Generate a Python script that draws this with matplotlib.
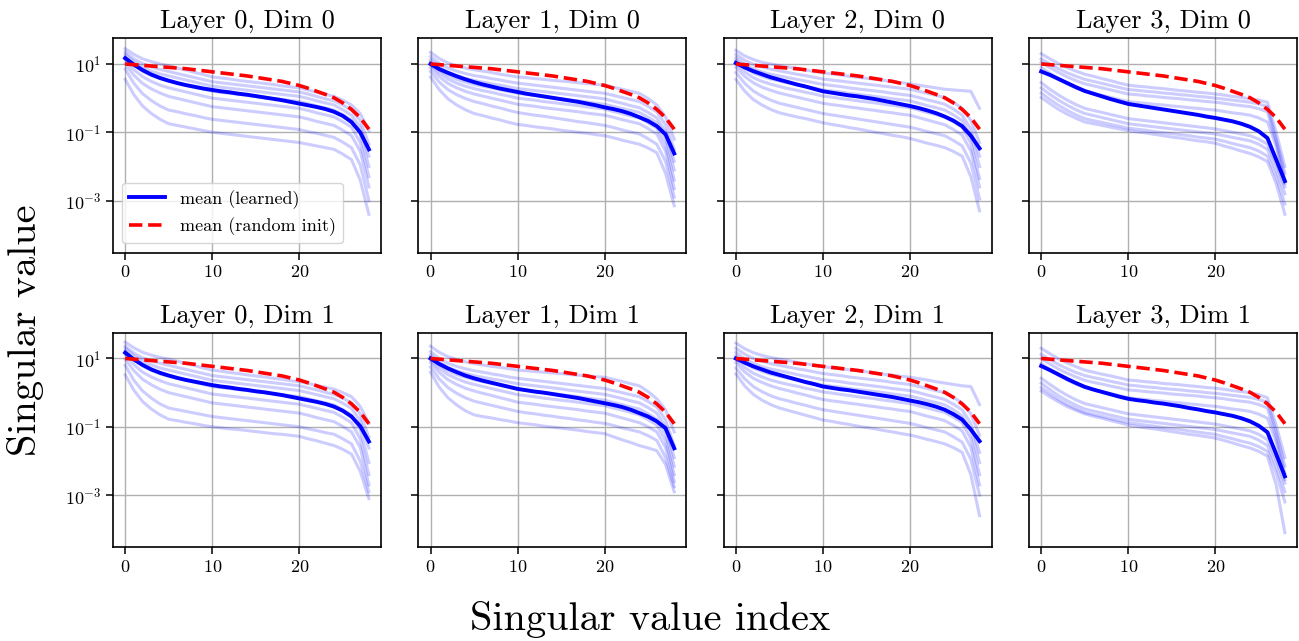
import numpy as np
import matplotlib
matplotlib.use("Agg")
import matplotlib.pyplot as plt
from matplotlib.ticker import NullLocator, FixedLocator

plt.rcParams["font.family"] = ["cmr10", "DejaVu Serif"]
plt.rcParams["mathtext.fontset"] = "cm"
plt.rcParams["axes.formatter.use_mathtext"] = True
plt.rcParams["axes.unicode_minus"] = True

# ---------------- data (log10 of singular values) ----------------
indices = list(range(29))
layers = [0, 1, 2, 3]
dims = [0, 1]
xticks = [0, 10, 20]
yticks = [1e1, 1e-1, 1e-3]

random_init_mean_log10 = [1.00, 0.98, 0.96, 0.94, 0.92, 0.90, 0.88, 0.86, 0.83, 0.80, 0.77, 0.74, 0.71, 0.68, 0.65,
                          0.61, 0.57, 0.53, 0.49, 0.43, 0.37, 0.29, 0.20, 0.11, 0.01, -0.14, -0.33, -0.57, -0.91]

# Layer 0, Dim 0
l0d0_mean_log10 = [1.17, 0.98, 0.82, 0.69, 0.59, 0.51, 0.44, 0.38, 0.33, 0.28, 0.24, 0.20, 0.17, 0.13, 0.10, 0.06, 0.02,
                   -0.02, -0.06, -0.11, -0.16, -0.21, -0.26, -0.32, -0.40, -0.52, -0.70, -1.00, -1.50]
l0d0_runs_log10 = [
    [1.45, 1.28, 1.15, 1.07, 1.00, 0.95, 0.88, 0.82, 0.75, 0.69, 0.62, 0.59, 0.56, 0.52, 0.49, 0.46, 0.43, 0.40, 0.36, 0.33, 0.30, 0.24, 0.17, 0.11, 0.05, -0.06, -0.20, -0.45, -0.95],
    [1.35, 1.15, 1.01, 0.91, 0.84, 0.78, 0.72, 0.66, 0.60, 0.54, 0.48, 0.45, 0.42, 0.39, 0.36, 0.33, 0.30, 0.27, 0.24, 0.21, 0.18, 0.12, 0.05, -0.02, -0.08, -0.20, -0.35, -0.65, -1.35],
    [1.28, 1.06, 0.90, 0.79, 0.71, 0.65, 0.59, 0.53, 0.47, 0.41, 0.35, 0.32, 0.29, 0.26, 0.23, 0.20, 0.17, 0.14, 0.11, 0.08, 0.05, -0.01, -0.08, -0.14, -0.20, -0.34, -0.50, -0.85, -1.70],
    [1.20, 0.96, 0.78, 0.66, 0.57, 0.50, 0.44, 0.38, 0.32, 0.26, 0.20, 0.17, 0.14, 0.11, 0.08, 0.05, 0.02, -0.01, -0.04, -0.07, -0.10, -0.16, -0.23, -0.29, -0.35, -0.49, -0.65, -1.05, -2.00],
    [1.12, 0.83, 0.63, 0.49, 0.38, 0.30, 0.24, 0.18, 0.12, 0.06, 0.00, -0.03, -0.06, -0.09, -0.12, -0.15, -0.18, -0.21, -0.24, -0.27, -0.30, -0.36, -0.43, -0.49, -0.55, -0.69, -0.85, -1.30, -2.30],
    [1.00, 0.67, 0.43, 0.27, 0.15, 0.05, -0.01, -0.07, -0.13, -0.19, -0.25, -0.28, -0.31, -0.34, -0.37, -0.40, -0.43, -0.46, -0.49, -0.52, -0.55, -0.61, -0.68, -0.74, -0.80, -0.94, -1.10, -1.55, -2.60],
    [0.85, 0.43, 0.13, -0.07, -0.23, -0.35, -0.40, -0.46, -0.51, -0.57, -0.62, -0.65, -0.68, -0.71, -0.74, -0.77, -0.80, -0.83, -0.86, -0.89, -0.92, -0.98, -1.03, -1.09, -1.15, -1.29, -1.45, -1.95, -3.00],
    [0.55, 0.10, -0.23, -0.45, -0.62, -0.75, -0.80, -0.85, -0.90, -0.95, -1.00, -1.03, -1.06, -1.09, -1.12, -1.15, -1.18, -1.21, -1.24, -1.27, -1.30, -1.35, -1.40, -1.45, -1.50, -1.64, -1.80, -2.40, -3.40],
]

# Layer 0, Dim 1
l0d1_mean_log10 = [1.17, 0.97, 0.81, 0.68, 0.58, 0.50, 0.43, 0.37, 0.32, 0.27, 0.22, 0.18, 0.15, 0.11, 0.08, 0.04, 0.01,
                   -0.03, -0.07, -0.12, -0.17, -0.22, -0.27, -0.33, -0.41, -0.53, -0.70, -0.98, -1.43]
l0d1_runs_log10 = [
    [1.48, 1.31, 1.18, 1.10, 1.03, 0.98, 0.92, 0.85, 0.79, 0.72, 0.66, 0.63, 0.59, 0.56, 0.52, 0.49, 0.46, 0.42, 0.39, 0.35, 0.32, 0.27, 0.21, 0.16, 0.10, 0.00, -0.12, -0.40, -0.90],
    [1.36, 1.16, 1.02, 0.93, 0.86, 0.80, 0.74, 0.68, 0.62, 0.56, 0.50, 0.47, 0.44, 0.41, 0.38, 0.35, 0.32, 0.29, 0.26, 0.23, 0.20, 0.14, 0.08, 0.01, -0.05, -0.16, -0.30, -0.62, -1.30],
    [1.30, 1.08, 0.92, 0.81, 0.72, 0.66, 0.60, 0.54, 0.48, 0.42, 0.36, 0.33, 0.30, 0.27, 0.24, 0.21, 0.18, 0.15, 0.12, 0.09, 0.06, 0.00, -0.06, -0.12, -0.18, -0.31, -0.46, -0.82, -1.62],
    [1.22, 0.96, 0.78, 0.65, 0.55, 0.48, 0.42, 0.36, 0.30, 0.24, 0.18, 0.15, 0.12, 0.09, 0.06, 0.03, 0.00, -0.03, -0.06, -0.09, -0.12, -0.18, -0.24, -0.30, -0.36, -0.50, -0.66, -1.08, -2.05],
    [1.12, 0.82, 0.60, 0.46, 0.35, 0.26, 0.20, 0.14, 0.08, 0.02, -0.04, -0.07, -0.10, -0.13, -0.16, -0.19, -0.22, -0.25, -0.28, -0.31, -0.34, -0.40, -0.46, -0.52, -0.58, -0.72, -0.88, -1.35, -2.40],
    [0.98, 0.64, 0.39, 0.23, 0.10, 0.00, -0.06, -0.12, -0.18, -0.24, -0.30, -0.33, -0.36, -0.39, -0.42, -0.45, -0.48, -0.51, -0.54, -0.57, -0.60, -0.66, -0.73, -0.79, -0.85, -0.99, -1.15, -1.60, -2.70],
    [0.80, 0.36, 0.05, -0.16, -0.33, -0.45, -0.50, -0.55, -0.60, -0.65, -0.70, -0.73, -0.76, -0.79, -0.82, -0.85, -0.88, -0.91, -0.94, -0.97, -1.00, -1.06, -1.11, -1.17, -1.22, -1.35, -1.50, -2.00, -2.90],
    [0.52, 0.07, -0.26, -0.48, -0.65, -0.78, -0.82, -0.87, -0.91, -0.96, -1.00, -1.03, -1.06, -1.08, -1.11, -1.14, -1.17, -1.20, -1.22, -1.25, -1.28, -1.35, -1.41, -1.48, -1.55, -1.66, -1.80, -2.30, -3.10],
]

# Layer 1, Dim 0
l1d0_mean_log10 = [1.00, 0.85, 0.74, 0.64, 0.55, 0.47, 0.40, 0.34, 0.28, 0.23, 0.18, 0.13, 0.09, 0.05, 0.01, -0.03, -0.07,
                   -0.11, -0.16, -0.21, -0.27, -0.32, -0.38, -0.46, -0.56, -0.67, -0.82, -1.06, -1.62]
l1d0_runs_log10 = [
    [1.34, 1.16, 1.03, 0.95, 0.88, 0.83, 0.79, 0.75, 0.70, 0.66, 0.62, 0.60, 0.57, 0.55, 0.52, 0.50, 0.48, 0.45, 0.43, 0.40, 0.38, 0.32, 0.26, 0.20, 0.14, -0.01, -0.20, -0.55, -1.20],
    [1.22, 1.02, 0.88, 0.79, 0.72, 0.66, 0.62, 0.57, 0.53, 0.48, 0.44, 0.41, 0.38, 0.35, 0.32, 0.29, 0.26, 0.23, 0.20, 0.17, 0.14, 0.08, 0.02, -0.04, -0.10, -0.24, -0.40, -0.78, -1.50],
    [1.12, 0.91, 0.76, 0.66, 0.58, 0.52, 0.47, 0.42, 0.38, 0.33, 0.28, 0.25, 0.22, 0.19, 0.16, 0.13, 0.10, 0.07, 0.04, 0.01, -0.02, -0.09, -0.15, -0.22, -0.28, -0.42, -0.58, -0.98, -1.85],
    [1.05, 0.82, 0.66, 0.55, 0.47, 0.40, 0.35, 0.30, 0.24, 0.19, 0.14, 0.11, 0.08, 0.04, 0.01, -0.02, -0.05, -0.08, -0.12, -0.15, -0.18, -0.24, -0.30, -0.36, -0.42, -0.56, -0.72, -1.15, -2.10],
    [0.98, 0.74, 0.56, 0.44, 0.35, 0.28, 0.22, 0.17, 0.11, 0.06, 0.00, -0.03, -0.06, -0.10, -0.13, -0.16, -0.19, -0.22, -0.26, -0.29, -0.32, -0.39, -0.45, -0.52, -0.58, -0.72, -0.88, -1.35, -2.40],
    [0.90, 0.63, 0.43, 0.30, 0.20, 0.12, 0.06, 0.00, -0.06, -0.12, -0.18, -0.21, -0.24, -0.28, -0.31, -0.34, -0.37, -0.40, -0.44, -0.47, -0.50, -0.56, -0.63, -0.69, -0.75, -0.89, -1.05, -1.55, -2.65],
    [0.78, 0.47, 0.25, 0.10, -0.01, -0.10, -0.16, -0.23, -0.29, -0.36, -0.42, -0.46, -0.50, -0.53, -0.57, -0.61, -0.65, -0.69, -0.72, -0.76, -0.80, -0.86, -0.93, -0.99, -1.05, -1.19, -1.35, -1.85, -2.90],
    [0.62, 0.25, -0.02, -0.20, -0.34, -0.45, -0.51, -0.58, -0.64, -0.71, -0.77, -0.80, -0.84, -0.87, -0.90, -0.94, -0.97, -1.00, -1.03, -1.07, -1.10, -1.16, -1.23, -1.29, -1.35, -1.46, -1.60, -2.20, -3.15],
]

# Layer 1, Dim 1
l1d1_mean_log10 = [1.00, 0.84, 0.71, 0.60, 0.50, 0.42, 0.35, 0.29, 0.23, 0.17, 0.11, 0.07, 0.03, 0.00, -0.04, -0.08, -0.12,
                   -0.16, -0.21, -0.26, -0.31, -0.36, -0.42, -0.50, -0.60, -0.70, -0.84, -1.04, -1.63]
l1d1_runs_log10 = [
    [1.36, 1.18, 1.05, 0.97, 0.90, 0.85, 0.81, 0.77, 0.74, 0.70, 0.66, 0.64, 0.62, 0.60, 0.58, 0.56, 0.53, 0.51, 0.49, 0.47, 0.45, 0.39, 0.33, 0.26, 0.20, 0.03, -0.18, -0.50, -1.15],
    [1.20, 1.00, 0.86, 0.77, 0.70, 0.64, 0.60, 0.55, 0.51, 0.46, 0.42, 0.39, 0.36, 0.33, 0.30, 0.27, 0.24, 0.21, 0.18, 0.15, 0.12, 0.06, 0.00, -0.06, -0.12, -0.26, -0.42, -0.80, -1.55],
    [1.10, 0.89, 0.74, 0.64, 0.56, 0.50, 0.45, 0.40, 0.36, 0.31, 0.26, 0.23, 0.20, 0.17, 0.14, 0.11, 0.07, 0.04, 0.01, -0.02, -0.05, -0.11, -0.17, -0.24, -0.30, -0.44, -0.60, -1.00, -1.90],
    [1.04, 0.81, 0.64, 0.53, 0.45, 0.38, 0.32, 0.27, 0.21, 0.16, 0.10, 0.07, 0.04, 0.00, -0.03, -0.06, -0.09, -0.12, -0.16, -0.19, -0.22, -0.29, -0.35, -0.42, -0.48, -0.62, -0.78, -1.20, -2.15],
    [0.96, 0.71, 0.53, 0.41, 0.31, 0.24, 0.18, 0.12, 0.06, 0.00, -0.06, -0.09, -0.12, -0.16, -0.19, -0.22, -0.25, -0.28, -0.32, -0.35, -0.38, -0.45, -0.51, -0.58, -0.65, -0.79, -0.95, -1.40, -2.40],
    [0.88, 0.59, 0.38, 0.24, 0.13, 0.05, -0.02, -0.08, -0.15, -0.21, -0.28, -0.31, -0.34, -0.38, -0.41, -0.44, -0.47, -0.50, -0.54, -0.57, -0.60, -0.67, -0.74, -0.81, -0.88, -1.00, -1.15, -1.60, -2.60],
    [0.75, 0.40, 0.15, -0.02, -0.15, -0.25, -0.31, -0.37, -0.43, -0.49, -0.55, -0.59, -0.62, -0.66, -0.69, -0.73, -0.76, -0.80, -0.83, -0.87, -0.90, -0.96, -1.03, -1.09, -1.15, -1.26, -1.40, -1.90, -2.75],
    [0.60, 0.16, -0.15, -0.36, -0.53, -0.65, -0.70, -0.74, -0.79, -0.83, -0.88, -0.91, -0.94, -0.98, -1.01, -1.04, -1.07, -1.10, -1.14, -1.17, -1.20, -1.29, -1.38, -1.46, -1.55, -1.62, -1.70, -2.10, -2.90],
]

# Layer 2, Dim 0
l2d0_mean_log10 = [1.03, 0.90, 0.79, 0.70, 0.61, 0.54, 0.47, 0.40, 0.34, 0.27, 0.20, 0.16, 0.12, 0.08, 0.05, 0.01, -0.03,
                   -0.08, -0.13, -0.18, -0.23, -0.29, -0.36, -0.44, -0.54, -0.66, -0.82, -1.10, -1.47]
l2d0_runs_log10 = [
    [1.40, 1.24, 1.13, 1.05, 1.00, 0.95, 0.91, 0.87, 0.82, 0.78, 0.74, 0.71, 0.68, 0.64, 0.61, 0.58, 0.55, 0.52, 0.48, 0.45, 0.42, 0.38, 0.34, 0.30, 0.26, 0.24, 0.22, 0.20, -0.30],
    [1.28, 1.11, 0.99, 0.91, 0.85, 0.80, 0.75, 0.70, 0.66, 0.61, 0.56, 0.53, 0.50, 0.47, 0.44, 0.41, 0.38, 0.35, 0.32, 0.29, 0.26, 0.20, 0.14, 0.08, 0.02, -0.12, -0.30, -0.65, -1.30],
    [1.18, 0.99, 0.86, 0.77, 0.70, 0.65, 0.60, 0.55, 0.50, 0.45, 0.40, 0.37, 0.34, 0.30, 0.27, 0.24, 0.21, 0.18, 0.14, 0.11, 0.08, 0.02, -0.05, -0.11, -0.18, -0.32, -0.50, -0.90, -1.70],
    [1.10, 0.89, 0.74, 0.64, 0.56, 0.50, 0.45, 0.40, 0.34, 0.29, 0.24, 0.21, 0.18, 0.14, 0.11, 0.08, 0.05, 0.02, -0.02, -0.05, -0.08, -0.15, -0.22, -0.28, -0.35, -0.49, -0.66, -1.10, -2.00],
    [1.00, 0.77, 0.60, 0.49, 0.41, 0.34, 0.28, 0.23, 0.17, 0.12, 0.06, 0.03, -0.01, -0.04, -0.08, -0.11, -0.14, -0.18, -0.21, -0.25, -0.28, -0.35, -0.42, -0.48, -0.55, -0.69, -0.85, -1.32, -2.35],
    [0.90, 0.64, 0.45, 0.32, 0.23, 0.15, 0.09, 0.03, -0.03, -0.09, -0.15, -0.19, -0.22, -0.26, -0.29, -0.33, -0.36, -0.40, -0.43, -0.47, -0.50, -0.57, -0.64, -0.71, -0.78, -0.92, -1.08, -1.55, -2.60],
    [0.75, 0.44, 0.21, 0.06, -0.06, -0.15, -0.21, -0.27, -0.33, -0.39, -0.45, -0.49, -0.53, -0.57, -0.61, -0.65, -0.69, -0.73, -0.77, -0.81, -0.85, -0.91, -0.98, -1.04, -1.10, -1.24, -1.40, -1.90, -2.95],
    [0.55, 0.21, -0.04, -0.20, -0.33, -0.43, -0.49, -0.55, -0.60, -0.66, -0.72, -0.77, -0.81, -0.86, -0.90, -0.95, -1.00, -1.04, -1.09, -1.13, -1.18, -1.25, -1.32, -1.38, -1.45, -1.56, -1.70, -2.30, -3.30],
]

# Layer 2, Dim 1
l2d1_mean_log10 = [1.00, 0.88, 0.77, 0.68, 0.59, 0.52, 0.45, 0.38, 0.31, 0.25, 0.18, 0.14, 0.10, 0.07, 0.03, -0.01, -0.05,
                   -0.09, -0.13, -0.18, -0.23, -0.28, -0.34, -0.41, -0.50, -0.63, -0.79, -1.08, -1.42]
l2d1_runs_log10 = [
    [1.45, 1.29, 1.17, 1.09, 1.03, 0.98, 0.94, 0.89, 0.85, 0.80, 0.76, 0.73, 0.70, 0.67, 0.64, 0.61, 0.57, 0.54, 0.51, 0.48, 0.45, 0.41, 0.37, 0.32, 0.28, 0.24, 0.20, 0.18, -0.35],
    [1.30, 1.13, 1.00, 0.92, 0.85, 0.80, 0.75, 0.70, 0.66, 0.61, 0.56, 0.53, 0.50, 0.46, 0.43, 0.40, 0.37, 0.34, 0.30, 0.27, 0.24, 0.18, 0.12, 0.06, 0.00, -0.14, -0.30, -0.62, -1.25],
    [1.18, 0.99, 0.86, 0.76, 0.69, 0.64, 0.59, 0.53, 0.48, 0.43, 0.38, 0.35, 0.32, 0.28, 0.25, 0.22, 0.19, 0.16, 0.12, 0.09, 0.06, 0.00, -0.07, -0.13, -0.20, -0.34, -0.50, -0.90, -1.75],
    [1.08, 0.87, 0.72, 0.62, 0.54, 0.48, 0.43, 0.38, 0.32, 0.27, 0.22, 0.19, 0.16, 0.12, 0.09, 0.06, 0.03, 0.00, -0.04, -0.07, -0.10, -0.16, -0.23, -0.29, -0.36, -0.50, -0.68, -1.10, -2.05],
    [0.98, 0.74, 0.57, 0.46, 0.37, 0.30, 0.24, 0.19, 0.13, 0.08, 0.02, -0.01, -0.05, -0.08, -0.12, -0.15, -0.18, -0.22, -0.25, -0.29, -0.32, -0.39, -0.45, -0.52, -0.58, -0.72, -0.88, -1.35, -2.40],
    [0.88, 0.61, 0.42, 0.30, 0.20, 0.12, 0.06, -0.01, -0.07, -0.14, -0.20, -0.24, -0.27, -0.31, -0.34, -0.38, -0.41, -0.45, -0.48, -0.52, -0.55, -0.62, -0.69, -0.75, -0.82, -0.96, -1.12, -1.60, -2.70],
    [0.72, 0.41, 0.18, 0.03, -0.09, -0.18, -0.24, -0.31, -0.37, -0.44, -0.50, -0.54, -0.58, -0.62, -0.66, -0.70, -0.74, -0.78, -0.82, -0.86, -0.90, -0.96, -1.03, -1.09, -1.15, -1.29, -1.45, -1.95, -3.00],
    [0.55, 0.20, -0.05, -0.22, -0.35, -0.45, -0.52, -0.59, -0.66, -0.73, -0.80, -0.84, -0.89, -0.93, -0.98, -1.02, -1.06, -1.11, -1.15, -1.20, -1.24, -1.30, -1.37, -1.43, -1.50, -1.61, -1.75, -2.40, -3.60],
]

# Layer 3, Dim 0
l3d0_mean_log10 = [0.78, 0.68, 0.56, 0.44, 0.32, 0.21, 0.13, 0.05, -0.03, -0.10, -0.17, -0.21, -0.25, -0.29, -0.33, -0.37,
                   -0.41, -0.45, -0.49, -0.54, -0.58, -0.63, -0.68, -0.75, -0.84, -0.97, -1.17, -1.80, -2.43]
l3d0_runs_log10 = [
    [1.30, 1.15, 1.01, 0.89, 0.79, 0.70, 0.64, 0.57, 0.51, 0.44, 0.38, 0.35, 0.33, 0.30, 0.28, 0.25, 0.22, 0.20, 0.17, 0.15, 0.12, 0.09, 0.05, 0.02, -0.02, -0.06, -0.12, -1.00, -2.00],
    [1.15, 1.00, 0.86, 0.74, 0.64, 0.55, 0.49, 0.43, 0.37, 0.31, 0.25, 0.23, 0.20, 0.18, 0.15, 0.13, 0.10, 0.08, 0.05, 0.03, 0.00, -0.03, -0.06, -0.09, -0.12, -0.17, -0.25, -1.20, -2.20],
    [1.05, 0.89, 0.75, 0.62, 0.51, 0.42, 0.36, 0.30, 0.24, 0.18, 0.12, 0.10, 0.07, 0.05, 0.02, 0.00, -0.02, -0.05, -0.07, -0.10, -0.12, -0.15, -0.19, -0.22, -0.25, -0.31, -0.40, -1.30, -2.40],
    [0.90, 0.73, 0.56, 0.42, 0.30, 0.20, 0.14, 0.08, 0.02, -0.04, -0.10, -0.13, -0.15, -0.18, -0.20, -0.23, -0.25, -0.28, -0.30, -0.33, -0.35, -0.39, -0.43, -0.46, -0.50, -0.58, -0.70, -1.40, -2.50],
    [0.45, 0.26, 0.09, -0.06, -0.19, -0.30, -0.36, -0.42, -0.48, -0.54, -0.60, -0.63, -0.66, -0.69, -0.72, -0.75, -0.78, -0.81, -0.84, -0.87, -0.90, -0.95, -1.00, -1.05, -1.10, -1.20, -1.35, -1.90, -2.60],
    [0.30, 0.11, -0.06, -0.21, -0.34, -0.45, -0.51, -0.57, -0.63, -0.69, -0.75, -0.78, -0.81, -0.84, -0.87, -0.90, -0.93, -0.96, -0.99, -1.02, -1.05, -1.10, -1.15, -1.20, -1.25, -1.35, -1.50, -2.10, -2.80],
    [0.15, -0.04, -0.21, -0.36, -0.49, -0.60, -0.66, -0.71, -0.77, -0.82, -0.88, -0.91, -0.94, -0.98, -1.01, -1.04, -1.07, -1.10, -1.14, -1.17, -1.20, -1.26, -1.33, -1.39, -1.45, -1.55, -1.70, -2.30, -3.10],
    [0.02, -0.16, -0.33, -0.47, -0.59, -0.70, -0.75, -0.80, -0.85, -0.90, -0.95, -0.99, -1.02, -1.06, -1.10, -1.14, -1.17, -1.21, -1.25, -1.28, -1.32, -1.40, -1.47, -1.55, -1.62, -1.72, -1.86, -2.50, -3.40],
]

# Layer 3, Dim 1
l3d1_mean_log10 = [0.78, 0.66, 0.53, 0.40, 0.28, 0.17, 0.09, 0.02, -0.05, -0.12, -0.18, -0.22, -0.25, -0.29, -0.32, -0.36,
                   -0.40, -0.45, -0.49, -0.54, -0.58, -0.63, -0.68, -0.75, -0.84, -0.97, -1.16, -1.80, -2.45]
l3d1_runs_log10 = [
    [1.30, 1.14, 0.99, 0.87, 0.76, 0.66, 0.60, 0.54, 0.49, 0.43, 0.37, 0.35, 0.32, 0.30, 0.27, 0.25, 0.23, 0.20, 0.18, 0.15, 0.13, 0.10, 0.06, 0.03, 0.00, -0.06, -0.15, -0.95, -1.90],
    [1.12, 0.97, 0.82, 0.70, 0.59, 0.50, 0.44, 0.39, 0.33, 0.28, 0.22, 0.20, 0.17, 0.15, 0.12, 0.10, 0.08, 0.05, 0.03, 0.00, -0.02, -0.05, -0.08, -0.11, -0.14, -0.20, -0.28, -1.15, -2.15],
    [1.00, 0.84, 0.69, 0.57, 0.46, 0.36, 0.30, 0.25, 0.19, 0.14, 0.08, 0.06, 0.03, 0.01, -0.01, -0.04, -0.06, -0.08, -0.10, -0.13, -0.15, -0.18, -0.22, -0.25, -0.28, -0.35, -0.45, -1.30, -2.35],
    [0.85, 0.68, 0.51, 0.37, 0.25, 0.15, 0.09, 0.03, -0.03, -0.09, -0.15, -0.18, -0.20, -0.23, -0.25, -0.28, -0.30, -0.33, -0.35, -0.38, -0.40, -0.44, -0.48, -0.51, -0.55, -0.63, -0.75, -1.45, -2.55],
    [0.42, 0.24, 0.07, -0.08, -0.21, -0.32, -0.38, -0.44, -0.50, -0.56, -0.62, -0.65, -0.68, -0.71, -0.74, -0.77, -0.80, -0.83, -0.86, -0.89, -0.92, -0.97, -1.02, -1.07, -1.12, -1.22, -1.38, -1.95, -2.65],
    [0.28, 0.09, -0.09, -0.24, -0.37, -0.48, -0.54, -0.60, -0.66, -0.72, -0.78, -0.81, -0.84, -0.87, -0.90, -0.93, -0.96, -0.99, -1.02, -1.05, -1.08, -1.13, -1.18, -1.23, -1.28, -1.39, -1.55, -2.15, -2.90],
    [0.15, -0.03, -0.20, -0.35, -0.47, -0.58, -0.64, -0.70, -0.76, -0.82, -0.88, -0.91, -0.95, -0.98, -1.02, -1.05, -1.08, -1.12, -1.15, -1.19, -1.22, -1.29, -1.35, -1.42, -1.48, -1.58, -1.72, -2.35, -3.20],
    [0.05, -0.12, -0.27, -0.41, -0.52, -0.62, -0.69, -0.75, -0.82, -0.88, -0.95, -0.99, -1.03, -1.06, -1.10, -1.14, -1.18, -1.22, -1.25, -1.29, -1.33, -1.40, -1.47, -1.55, -1.62, -1.72, -1.86, -2.70, -4.10],
]

panel_data = {
    (0, 0): (l0d0_runs_log10, l0d0_mean_log10), (1, 0): (l1d0_runs_log10, l1d0_mean_log10),
    (2, 0): (l2d0_runs_log10, l2d0_mean_log10), (3, 0): (l3d0_runs_log10, l3d0_mean_log10),
    (0, 1): (l0d1_runs_log10, l0d1_mean_log10), (1, 1): (l1d1_runs_log10, l1d1_mean_log10),
    (2, 1): (l2d1_runs_log10, l2d1_mean_log10), (3, 1): (l3d1_runs_log10, l3d1_mean_log10),
}

# ---------------- figure ----------------
fig, axes = plt.subplots(2, 4, figsize=(12.99, 6.41), dpi=100, sharey=True)
fig.subplots_adjust(left=0.087, right=0.9985, top=0.9407, bottom=0.1466, wspace=0.139, hspace=0.373)

x = np.array(indices)
for r, dim in enumerate(dims):
    for c, layer in enumerate(layers):
        ax = axes[r, c]
        runs, mean = panel_data[(layer, dim)]
        for run in runs:
            ax.plot(x, 10.0 ** np.array(run), color="blue", alpha=0.2, lw=2.2)
        ax.plot(x, 10.0 ** np.array(mean), color="blue", lw=2.8, label="mean (learned)")
        ax.plot(x, 10.0 ** np.array(random_init_mean_log10), color="red", ls="--", lw=2.6,
                label="mean (random init)")
        ax.set_yscale("log")
        ax.set_xlim(-1.4, 29.4)
        ax.set_ylim(10 ** -4.52, 10 ** 1.76)
        ax.yaxis.set_major_locator(FixedLocator(yticks))
        ax.yaxis.set_minor_locator(NullLocator())
        ax.set_xticks(xticks)
        ax.grid(True, color="#b0b0b0", lw=1.0)
        ax.set_axisbelow(True)
        ax.tick_params(labelsize=13, length=5, width=1.1)
        for sp in ax.spines.values():
            sp.set_linewidth(1.2)
        ax.set_title(f"Layer {layer}, Dim {dim}", fontsize=19, pad=7)

axes[0, 0].legend(loc="lower left", fontsize=13)

fig.text(0.5, 0.033, "Singular value index", ha="center", va="center", fontsize=29)
fig.text(0.02, 0.485, "Singular value", ha="center", va="center", rotation=90, fontsize=29)

fig.savefig("out.png", dpi=100)
